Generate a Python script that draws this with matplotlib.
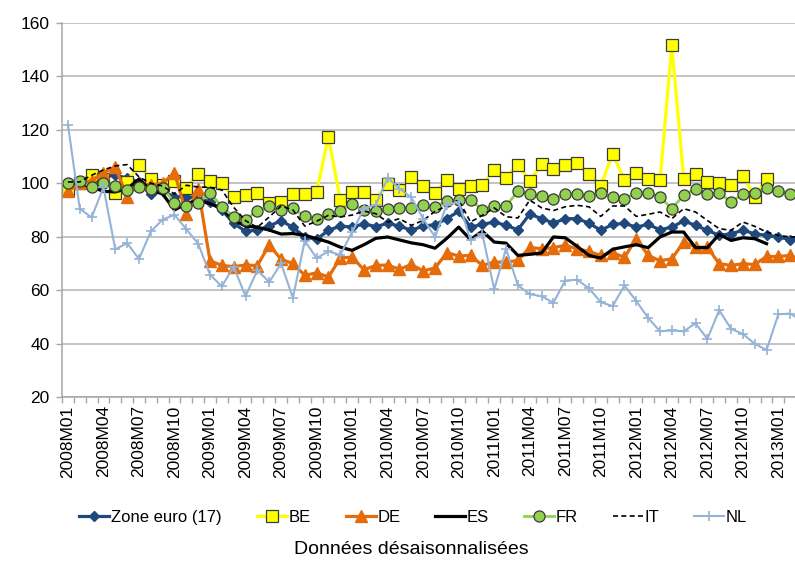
import numpy as np
import matplotlib
matplotlib.use("Agg")
import matplotlib.pyplot as plt
from matplotlib.ticker import FixedLocator

plt.rcParams['font.family'] = ['Liberation Sans Narrow', 'Liberation Sans', 'DejaVu Sans']

nan = np.nan

# months 2008M01 .. 2013M03
months = [f"{y}M{m:02d}" for y in range(2008, 2014) for m in range(1, 13)][:63]

zone_euro = [99.5, 100.5, 100, 102.5, 103, 102, 100.5, 96, 97, 95, 95, 94.5,
             93, 90, 85, 82, 82.5, 84, 86, 83.5, 80, 79, 82.4, 84,
             83.6, 84.8, 83.8, 85, 84, 82.4, 84, 84.5, 86.75, 89.5, 83.6, 84.6,
             85.5, 84.25, 82.6, 88.5, 86.75, 85.1, 86.75, 86.75, 85.1, 82.4, 84.6, 85,
             83.6, 84.6, 82.6, 83.6, 85.9, 84.25, 82.4, 80.5, 81.1, 82.4, 81.1, 80.5,
             79.9, 78.9, 80.3]

be = [97.4, 100, 103, 101.5, 96.5, 100.5, 107, 101.5, 99.5, 101, 98.4, 103.4,
      101, 100, 94.9, 95.8, 96.5, 92.5, 92.9, 95.9, 96, 96.75, 117.4, 93.6,
      96.75, 96.75, 93.6, 99.9, 97.3, 102.4, 98.9, 96.4, 101.4, 97.8, 99, 99.5,
      104.9, 102.1, 107, 100.75, 107.4, 105.25, 107, 107.75, 103.6, 99.1, 111.1, 101.1,
      104, 101.75, 101.1, 151.75, 101.75, 103.6, 100.5, 100.1, 99.25, 102.75, 94.9, 101.75,
      nan, nan, nan]

de = [97, 100, 101, 104, 106, 95, 100, 99.5, 100, 104, 88.5, 98,
      71, 69.25, 68.8, 69.4, 69.2, 77, 71.5, 70, 65.5, 66.5, 64.9, 72,
      72.4, 67.6, 69.25, 69.4, 67.8, 69.6, 67.2, 68.3, 74, 72.8, 73, 69.25,
      70.5, 70.5, 71.1, 76, 75.5, 75.9, 76.75, 75.5, 74.5, 73, 74, 72.3,
      79.25, 73, 71, 71.75, 78, 76.1, 76.1, 69.9, 69.25, 69.9, 69.6, 72.6,
      72.6, 73, 71]

es = [100.5, 100, 98.6, 97, 96.75, 98, 101.5, 97.4, 96, 90, 92.4, 93.6,
      92.4, 90.5, 86.2, 84, 83.5, 82.5, 81, 81.2, 80.5, 79.3, 78, 76.1,
      74.9, 77, 79.4, 79.9, 78.8, 77.7, 77, 75.7, 79.4, 83.6, 78.9, 82.1,
      78, 77.6, 73, 73.4, 73.9, 79.9, 79.6, 76.4, 73, 72, 75.3, 76.2,
      77, 75.9, 79.9, 81.75, 81.75, 75.9, 75.9, 80.9, 78.6, 79.6, 79.25, 77.4,
      nan, nan, nan]

fr = [100, 101, 98.6, 100, 99, 97.4, 98.6, 98, 98.3, 92.75, 91.5, 92.7,
      96.4, 91.3, 87.4, 86.4, 89.7, 91.4, 90.1, 90.7, 87.6, 86.75, 88.4, 89.7,
      92.2, 90, 89.8, 90.3, 90.9, 90.9, 92, 91.1, 93.3, 93.9, 93.9, 90.1,
      91.4, 91.4, 97.1, 95.9, 95.1, 94, 96.1, 95.9, 95.1, 96.4, 94.7, 94.25,
      96.4, 96.4, 94.9, 90.5, 95.5, 98, 96.1, 96.4, 93, 95.9, 96.4, 98.4,
      97, 96.1, 96]

it = [100.5, 100.5, 103, 105, 106.5, 107, 102.4, 100, 99, 96, 99.25, 98.6,
      98.5, 97.5, 91, 86, 83.5, 87.4, 91.5, 90, 84, 85.8, 88, 87.4,
      88.1, 89.6, 88.6, 85.5, 86.75, 84.25, 86.1, 89.5, 91.5, 93.8, 85.5, 88,
      90.8, 87.5, 87, 93.7, 90.8, 89.8, 91.2, 91.75, 91.2, 87.6, 91.5, 91.5,
      87.6, 88.4, 89.25, 86.75, 90.5, 89.25, 86.1, 83, 82.4, 85.5, 83.9, 81.75,
      80.5, 79.9, 80]

nl = [122, 90.5, 87.2, 98.5, 75.3, 77.6, 71.6, 82, 86.4, 88.2, 82.8, 77.4,
      65.8, 61.4, 68.8, 57.7, 67.5, 63, 70, 57.1, 78.5, 72, 74.5, 73.2,
      81.7, 90.5, 92, 102, 98, 94.7, 86.8, 79.9, 92, 93, 78.6, 81,
      60.3, 75.5, 61.8, 58.5, 57.7, 55.3, 63.6, 63.9, 60.7, 55.5, 54, 61.75,
      55.9, 49.6, 44.6, 44.9, 44.6, 47.6, 41.75, 52.5, 45.5, 43.6, 39.9, 37.6,
      51, 51.2, 48.5]

x = np.arange(len(months))
edge = "#3A3A3A"

fig = plt.figure(figsize=(7.95, 5.62), dpi=100)
ax = fig.add_axes([62/795, 1-397/562, 1-62/795, (397-23)/562])

ax.plot(x, zone_euro, color="#1F497D", lw=2.3, marker="D", ms=5.5, label="Zone euro (17)")
ax.plot(x, be, color="#FFFF00", lw=2.3, marker="s", ms=8, mfc="#FFFF00", mec=edge, mew=0.9, label="BE")
ax.plot(x, de, color="#E46C0A", lw=2.3, marker="^", ms=8, label="DE")
ax.plot(x, es, color="black", lw=2.3, label="ES")
ax.plot(x, fr, color="#92D050", lw=2.0, marker="o", ms=8, mfc="#92D050", mec=edge, mew=0.9, label="FR")
ax.plot(x, it, color="black", lw=1.2, ls=(0, (3, 2)), label="IT")
ax.plot(x, nl, color="#95B3D7", lw=1.5, marker="+", ms=7, mew=1.2, label="NL")

ax.set_xlim(-0.5, (795-68)/11.84)
ax.set_ylim(20, 160)
ax.set_yticks(range(20, 161, 20))
ax.grid(axis="y", color="#B3B3B3", lw=1.1)
ax.set_axisbelow(True)

for s in ["top", "right"]:
    ax.spines[s].set_visible(False)
for s in ["left", "bottom"]:
    ax.spines[s].set_color("#A6A6A6")
    ax.spines[s].set_linewidth(1.1)

ax.set_xticks(x[::3])
ax.set_xticklabels(months[::3], rotation=90)
ax.xaxis.set_minor_locator(FixedLocator(x - 0.5))
ax.tick_params(axis="x", which="major", length=0, pad=6, labelsize=12.5)
ax.tick_params(axis="x", which="minor", length=4, color="#A6A6A6", width=1)
ax.tick_params(axis="y", length=4, color="#A6A6A6", width=1, pad=5, labelsize=12.5)

fig.legend(loc="center", bbox_to_anchor=(0.52, 0.08), ncol=7, frameon=False,
           fontsize=12, handlelength=1.8, handletextpad=0.1, columnspacing=2.1,
           numpoints=1)

fig.text(0.518, 0.022, "Données désaisonnalisées", ha="center", va="center", fontsize=14)

fig.savefig("out.png", dpi=100)
